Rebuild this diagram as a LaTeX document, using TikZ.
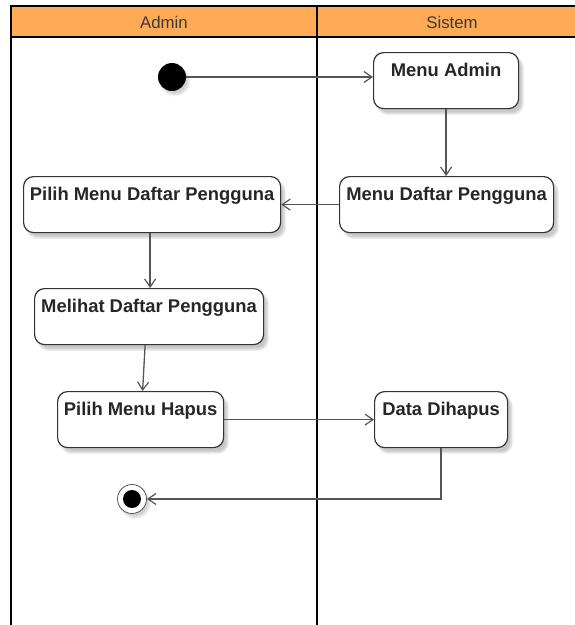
\documentclass[tikz,border=0pt]{standalone}
\usepackage{fontspec}
\setmainfont{Liberation Sans}
\usetikzlibrary{arrows.meta,shadows.blur,calc}
\definecolor{laneorange}{HTML}{FFAA55}
\definecolor{edgegray}{HTML}{333333}
\definecolor{flowgray}{HTML}{555555}
\definecolor{labelgray}{HTML}{3A3A3A}
\begin{document}
\begin{tikzpicture}[x=1pt,y=-1pt,
  lane/.style={draw=black,line width=2pt},
  lanehead/.style={font=\fontsize{16.8}{18}\selectfont,text=labelgray},
  action/.style={draw=edgegray,line width=1.2pt,fill=white,rounded corners=10pt,
    anchor=north west,inner xsep=2pt,inner ysep=0pt,
    text height=24pt,text depth=32pt,text=black!85,
    font=\bfseries\fontsize{18.4}{20}\selectfont,
    blur shadow={shadow xshift=4pt,shadow yshift=-5pt,shadow opacity=22,shadow blur steps=6}},
  startdot/.style={circle,fill=black,minimum size=28pt,inner sep=0pt,
    blur shadow={shadow xshift=3pt,shadow yshift=-4pt,shadow opacity=18,shadow blur steps=5}},
  enddot/.style={circle,draw=flowgray,line width=0.8pt,fill=white,minimum size=29pt,inner sep=0pt,
    blur shadow={shadow xshift=3pt,shadow yshift=-4pt,shadow opacity=18,shadow blur steps=5}},
  flow/.style={draw=flowgray,line width=1.3pt,-{Straight Barb[length=8pt,width=11pt,line width=1.2pt]}}
]
\useasboundingbox (0,0) rectangle (575,625);

% swimlanes
\fill[laneorange] (11,6) rectangle (577,37);
\draw[lane] (11,6) -- (577,6);
\draw[lane] (11,37) -- (577,37);
\draw[lane] (11,5) -- (11,626);
\draw[lane] (317,5) -- (317,626);
\node[lanehead] (hadmin) at (164,22) {Admin};
\node[lanehead] (hsistem) at (452,22) {Sistem};

% start and end
\node[startdot] (init) at (172,77) {};
\node[enddot] (fin) at (132,499) {};
\fill[black] (fin.center) circle (9pt);

% actions
\node[action,minimum width=145pt] (ma) at (373,52) {Menu Admin};
\node[action,minimum width=214pt] (mdp) at (339,176) {Menu Daftar Pengguna};
\node[action,minimum width=257pt] (pmdp) at (23,176) {Pilih Menu Daftar Pengguna};
\node[action,minimum width=229pt] (mlh) at (34,288) {Melihat Daftar Pengguna};
\node[action,minimum width=166pt] (pmh) at (57,391) {Pilih Menu Hapus};
\node[action,minimum width=133pt] (dd) at (374,391) {Data Dihapus};

% control flow
\draw[flow] (init.east) -- (init -| ma.west);
\draw[flow] (ma.south) -- (ma.south |- mdp.north);
\draw[flow] (mdp.west) -- (pmdp.east);
\draw[flow] ([xshift=1pt]mlh.north |- pmdp.south) -- ([xshift=1pt]mlh.north);
\draw[flow] ([xshift=-4pt]mlh.south) -- ([xshift=2pt]pmh.north);
\draw[flow] (pmh.east) -- (dd.west);
\draw[flow] (dd.south) |- (fin.east);
\end{tikzpicture}
\end{document}
